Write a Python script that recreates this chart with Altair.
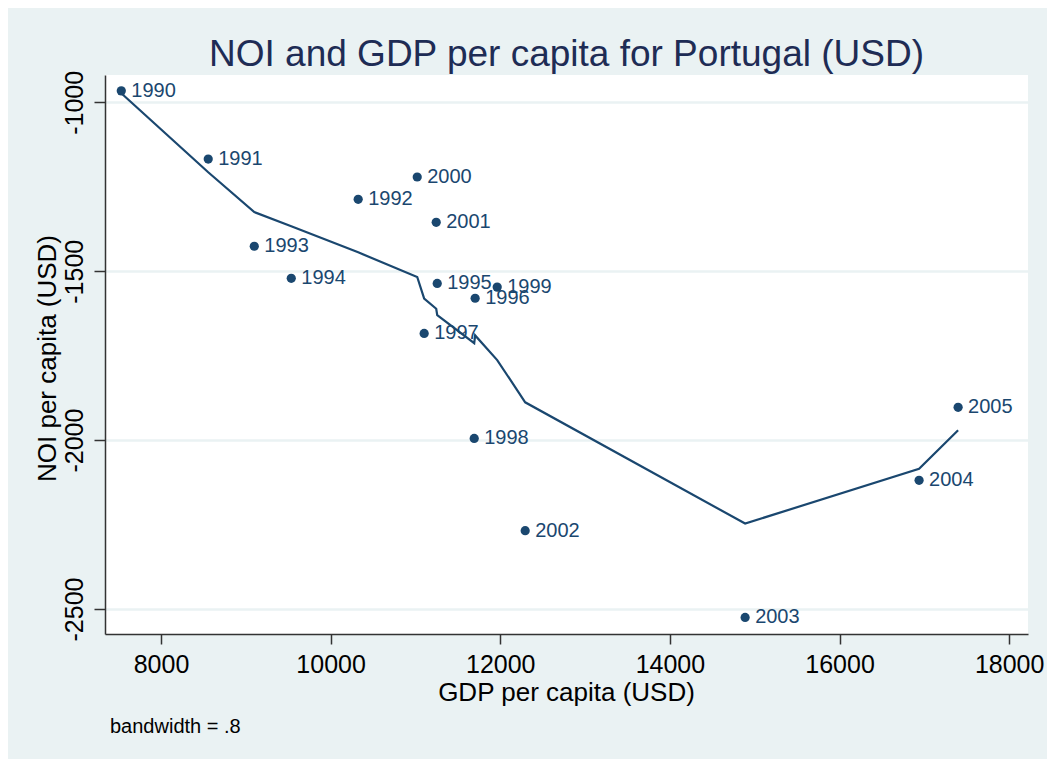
import altair as alt
import pandas as pd

years = [1990, 1991, 1992, 1993, 1994, 1995, 1996, 1997,
         1998, 1999, 2000, 2001, 2002, 2003, 2004, 2005]
gdp = [7532, 8557, 10325, 9100, 9536, 11257, 11704, 11103,
       11693, 11964, 11021, 11245, 12294, 14887, 16938, 17398]
noi = [-966, -1168, -1287, -1426, -1521, -1536, -1580, -1684,
       -1995, -1547, -1221, -1355, -2268, -2525, -2119, -1903]
lowess = [-973, -1207, -1444, -1325, -1367, -1630, -1690, -1581,
          -1713, -1763, -1517, -1611, -1888, -2247, -2085, -1971]
x_ticks = [8000, 10000, 12000, 14000, 16000, 18000]
y_ticks = [-2500, -2000, -1500, -1000]

df = pd.DataFrame({"year": [str(y) for y in years], "gdp": gdp, "noi": noi, "fit": lowess})

NAVY = "#1a476f"
BG = "#eaf2f3"

xscale = alt.Scale(domain=[7340, 18222], nice=False, zero=False)
yscale = alt.Scale(domain=[-2574, -919], nice=False, zero=False)

xaxis = alt.Axis(values=x_ticks, grid=False, title="GDP per capita (USD)",
                 labelExpr="datum.value + ''",
                 titleFontSize=26, titleFontWeight="normal", titleColor="black",
                 titleX=461, titleY=66, titleBaseline="alphabetic", titleAlign="center",
                 labelFontSize=25, labelColor="black", labelPadding=8,
                 tickSize=10, tickColor="#333333", tickWidth=1.5,
                 domainColor="#333333", domainWidth=1.5, labelFlush=False)
yaxis = alt.Axis(values=y_ticks, grid=True, gridColor=BG, gridWidth=2.5,
                 title="NOI per capita (USD)",
                 labelExpr="datum.value + ''",
                 titleFontSize=26, titleFontWeight="normal", titleColor="black",
                 titleAngle=270, titleX=-50, titleY=283, titleBaseline="alphabetic",
                 titleAlign="center",
                 labelFontSize=25, labelColor="black", labelAngle=270,
                 labelAlign="center", labelBaseline="alphabetic", labelPadding=12,
                 tickSize=11, tickColor="#333333", tickWidth=1.5,
                 domainColor="#333333", domainWidth=1.5, labelFlush=False)

base = alt.Chart(df)

line = base.mark_line(color=NAVY, strokeWidth=2.2).encode(
    x=alt.X("gdp:Q", scale=xscale, axis=xaxis),
    y=alt.Y("fit:Q", scale=yscale, axis=yaxis),
    order="gdp:Q",
)
pts = base.mark_circle(color=NAVY, opacity=1, size=85).encode(
    x=alt.X("gdp:Q", scale=xscale),
    y=alt.Y("noi:Q", scale=yscale),
)
labels = base.mark_text(align="left", baseline="middle", dx=10, fontSize=20,
                        color=NAVY, font="Liberation Sans").encode(
    x=alt.X("gdp:Q", scale=xscale),
    y=alt.Y("noi:Q", scale=yscale),
    text="year:N",
)
note = alt.Chart(pd.DataFrame({"t": ["bandwidth = .8"]})).mark_text(
    align="left", baseline="alphabetic", fontSize=20, color="black",
    font="Liberation Sans").encode(
    x=alt.value(5), y=alt.value(658), text="t:N")

chart = alt.layer(line, pts, labels, note).properties(
    width=923, height=559,
    autosize=alt.AutoSizeParams(type="none"),
    padding={"left": 97, "top": 67, "right": 19, "bottom": 125},
    background=BG,
    title=alt.TitleParams("NOI and GDP per capita for Portugal (USD)",
                          fontSize=37, fontWeight="normal", color="#1e2c55",
                          anchor="middle", baseline="alphabetic", offset=13,
                          dy=46, font="Liberation Sans"),
).configure(font="Liberation Sans").configure_view(fill="white", stroke=None)

chart.save("out.html", embed_options={"renderer": "svg", "actions": False})
